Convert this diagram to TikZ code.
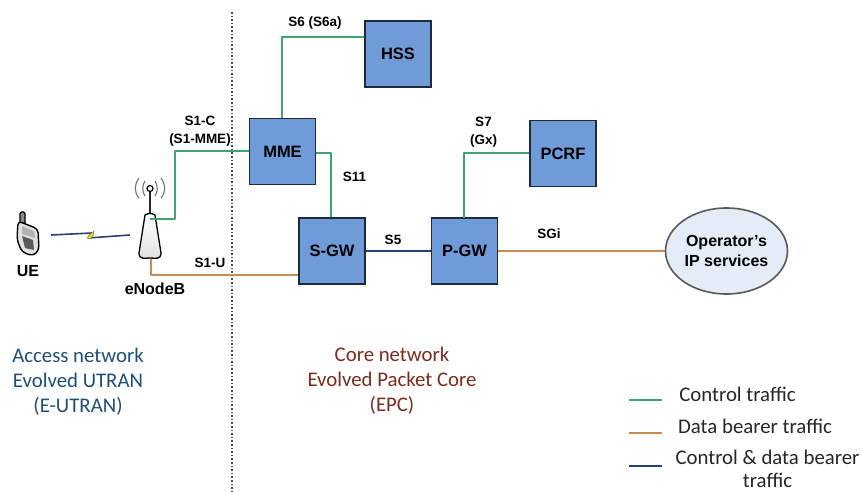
\documentclass[tikz,border=0pt]{standalone}
\usepackage{fontspec}
\setmainfont{Liberation Sans}
\newfontfamily\capfont{Carlito}
\usetikzlibrary{shapes.geometric}
\definecolor{boxfill}{HTML}{6F9BD8}
\definecolor{boxline}{HTML}{1F2A3C}
\definecolor{ctrl}{HTML}{3FA56E}
\definecolor{data}{HTML}{C98B56}
\definecolor{both}{HTML}{2B3F73}
\definecolor{ellfill}{HTML}{E6ECF7}
\definecolor{accblue}{HTML}{1F4E79}
\definecolor{corered}{HTML}{7B2C1E}
\tikzset{
  netbox/.style={draw=boxline,line width=1.4pt,fill=boxfill,minimum width=66pt,minimum height=66pt,inner sep=0pt,font=\fontsize{16.5}{18}\selectfont\bfseries,text=black},
  link/.style={line width=1.9pt,line join=round},
  ctrlink/.style={link,draw=ctrl},
  datalink/.style={link,draw=data},
  bothlink/.style={link,draw=both},
  lab/.style={font=\fontsize{13.5}{17.5}\selectfont\bfseries,align=center,text=black,inner sep=0pt},
  biglab/.style={lab,font=\fontsize{16}{18}\selectfont\bfseries},
  captxt/.style={font=\capfont\fontsize{20.8}{25}\selectfont,align=center,inner sep=0pt},
  legtxt/.style={font=\capfont\fontsize{20.8}{23.5}\selectfont,align=center,inner sep=0pt,text=black!85}
}
\begin{document}
\begin{tikzpicture}[x=1pt,y=-1pt]
\useasboundingbox (0,0) rectangle (862,492);
\fill[white] (0,0) rectangle (862,492);
% divider
\coordinate (divT) at (232,12);
\coordinate (divB) at (232,492);
\draw[line width=1.6pt,black!70,dotted] (divT) -- (divB);
% connector S1-C is drawn beneath the nodes
\coordinate (s1cA) at (150,219);
\coordinate (s1cB) at (175,219);
\coordinate (s1cC) at (175,151);
\coordinate (s1cD) at (250,151);
\draw[ctrlink] (s1cA) -- (s1cB) -- (s1cC) -- (s1cD);
% nodes
\node[netbox] (hss) at (398,54) {HSS};
\node[netbox] (mme) at (282.5,151.5) {MME};
\node[netbox] (sgw) at (332,251) {S-GW};
\node[netbox] (pgw) at (464.5,251) {P-GW};
\node[netbox] (pcrf) at (563,153.5) {PCRF};
\node[ellipse,draw=black!65,line width=1.6pt,fill=ellfill,minimum width=122pt,minimum height=86pt,inner sep=0pt,align=center,font=\fontsize{16}{20}\selectfont\bfseries] (ops) at (726.5,251) {Operator's\\IP services};
% eNodeB antenna body
\coordinate (enbD) at (151,259);
\draw[black,line width=1.3pt,top color=white,bottom color=black!12] (145,215) .. controls (148,213) and (152,213) .. (155,215) -- (161,253) .. controls (161,260) and (155,258) .. (150,258) .. controls (145,258) and (139,260) .. (139,253) -- cycle;
\draw[ctrlink] (s1cA) -- (s1cB);
\draw[black!85,line width=1.4pt] (150,213) -- (150,192);
\draw[black,line width=1.2pt,fill=white] (150,188.5) circle (3pt);
\draw[black!55,line width=1.1pt] (145,181) .. controls (142,185) and (142,192) .. (145,196);
\draw[black!55,line width=1.1pt] (155,181) .. controls (158,185) and (158,192) .. (155,196);
\draw[black!55,line width=1.1pt] (139,178) .. controls (134,185) and (134,192) .. (139,198);
\draw[black!55,line width=1.1pt] (161,178) .. controls (166,185) and (166,192) .. (161,198);
\node[biglab] (enbl) at (155,289) {eNodeB};
% UE phone
\draw[black,line width=1.1pt,fill=black!45,rounded corners=1.5pt] (20,212) rectangle (25,224);
\draw[black,line width=1.4pt,fill=black!12,rounded corners=4pt] (18,221) -- (38,229) -- (39,250) -- (33,256) -- (22,252) -- (17,240) -- cycle;
\fill[black!30] (22,226) -- (34,231) -- (35,238) -- (22,234) -- cycle;
\fill[black!65] (22,236) -- (33,240) -- (34,250) -- (25,248) -- cycle;
\node[biglab] (uel) at (28,271) {UE};
% radio link
\coordinate (radA) at (51,235);
\coordinate (radB) at (130,235);
\draw[both,line width=1.6pt] (radA) -- (92,233);
\draw[both,line width=1.6pt] (88,238) -- (radB);
\fill[yellow!85!black,draw=black!60,line width=.3pt] (94,231) -- (93,236) -- (90,239) -- (87,238) -- (89,235) -- cycle;
% connectors
\draw[datalink] (enbD) |- (sgw.west |- 0,275);
\draw[ctrlink] (mme.north -| 282,0) |- (hss.west |- 0,37);
\draw[ctrlink] (mme.east |- 0,153) -| (331,217);
\draw[bothlink] (sgw.east) -- (pgw.west);
\draw[ctrlink] (464,218) |- (pcrf.west |- 0,153);
\draw[datalink] (pgw.east) -- (ops.west);
% labels
\node[lab] (l1) at (200,131) {S1-C\\(S1-MME)};
\node[lab] (l2) at (210,263) {S1-U};
\node[lab] (l3) at (315,23) {S6 (S6a)};
\node[lab] (l4) at (354.5,177) {S11};
\node[lab] (l5) at (393,240) {S5};
\node[lab] (l6) at (483.5,132) {S7\\(Gx)};
\node[lab] (l7) at (549,234) {SGi};
% captions
\node[captxt,text=accblue] (c1) at (78,381.5) {Access network\\Evolved UTRAN\\(E-UTRAN)};
\node[captxt,text=corered] (c2) at (392,381) {Core network\\Evolved Packet Core\\(EPC)};
% legend
\coordinate (k1a) at (629,400); \coordinate (k1b) at (662,400);
\coordinate (k2a) at (629,433); \coordinate (k2b) at (662,433);
\coordinate (k3a) at (629,466); \coordinate (k3b) at (662,466);
\draw[ctrlink] (k1a) -- (k1b);
\draw[datalink] (k2a) -- (k2b);
\draw[bothlink] (k3a) -- (k3b);
\node[legtxt] (t1) at (737.5,394) {Control traffic};
\node[legtxt] (t2) at (755,426) {Data bearer traffic};
\node[legtxt] (t3) at (767.5,469) {Control \& data bearer\\traffic};
\end{tikzpicture}
\end{document}
